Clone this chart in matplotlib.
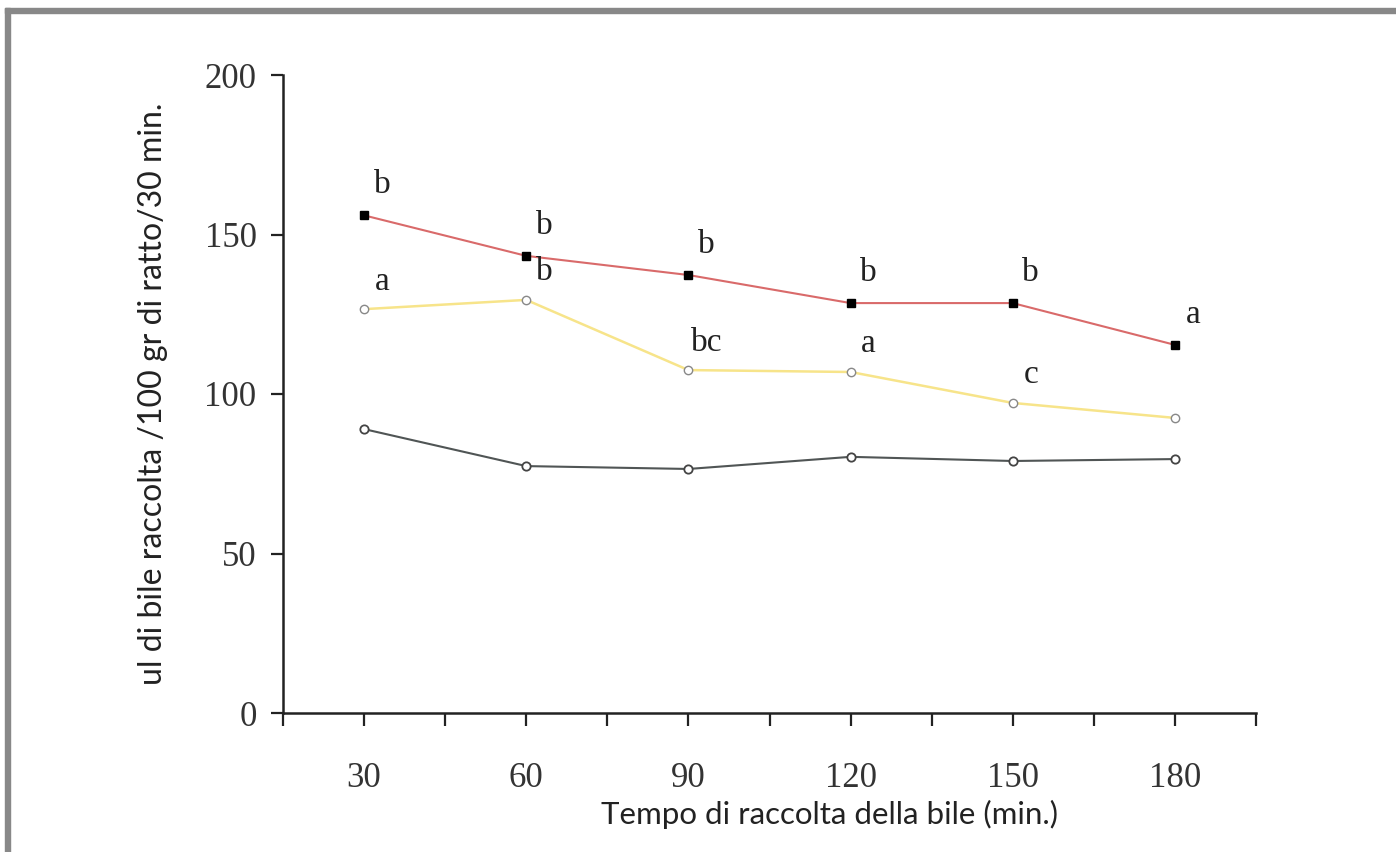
import matplotlib.pyplot as plt
from matplotlib.patches import Rectangle

# data
tempo = [30, 60, 90, 120, 150, 180]
serie_rossa = [156, 143.3, 137.3, 128.5, 128.5, 115.4]
serie_gialla = [126.6, 129.5, 107.5, 106.9, 97.2, 92.5]
serie_grigia = [89, 77.4, 76.5, 80.3, 79, 79.6]
lettere_rossa = ['b', 'b', 'b', 'b', 'b', 'a']
lettere_gialla = ['a', 'b', 'bc', 'a', 'c', '']

fig = plt.figure(figsize=(13.96, 8.52), dpi=100)

# grey frame on top and left edges
fig.patches.append(Rectangle((5 / 1396, 0), 5 / 1396, 1 - 8 / 852,
                             transform=fig.transFigure, color='#888888', zorder=0))
fig.patches.append(Rectangle((5 / 1396, 1 - 13 / 852), 1 - 5 / 1396, 5 / 852,
                             transform=fig.transFigure, color='#888888', zorder=0))

ax = fig.add_axes([283 / 1396, 1 - 713 / 852, (1256 - 283) / 1396, (713 - 75) / 852])

ax.plot(tempo, serie_grigia, color='#505555', lw=1.5, marker='o', ms=6,
        mfc='white', mec='#444444', mew=1.3)
ax.plot(tempo, serie_gialla, color='#f7e48a', lw=1.8, marker='o', ms=6,
        mfc='white', mec='#888888', mew=1.0)
ax.plot(tempo, serie_rossa, color='#d96a6a', lw=1.5, marker='s', ms=6,
        mfc='black', mec='black')

serif = ['Liberation Serif', 'DejaVu Serif']
for x, y, t in zip(tempo, serie_rossa, lettere_rossa):
    ax.annotate(t, (x, y), xytext=(13, 22), textcoords='offset points',
                ha='center', va='center', fontsize=24, family=serif, color='#222222')
for x, y, t in zip(tempo, serie_gialla, lettere_gialla):
    ax.annotate(t, (x, y), xytext=(13, 20), textcoords='offset points',
                ha='center', va='center', fontsize=24, family=serif, color='#222222')

ax.set_xlim(15, 195)
ax.set_ylim(0, 200)
ax.set_xticks(list(range(15, 196, 15)))
ax.set_xticklabels(['' if v not in tempo else str(v) for v in range(15, 196, 15)])
ax.set_yticks([0, 50, 100, 150, 200])

for s in ['top', 'right']:
    ax.spines[s].set_visible(False)
for s in ['left', 'bottom']:
    ax.spines[s].set_linewidth(1.8)
    ax.spines[s].set_color('#222222')

ax.tick_params(direction='out', length=9, width=1.6, colors='#222222',
               labelsize=25, pad=10)
ax.tick_params(axis='x', pad=26)
for lab in ax.get_xticklabels() + ax.get_yticklabels():
    lab.set_family(serif)
    lab.set_color('#333333')

ax.set_xlabel('Tempo di raccolta della bile (min.)', fontsize=22.5,
              family=['Lato', 'DejaVu Sans'], color='#222222')
ax.xaxis.set_label_coords(0.562, -0.136)
ax.set_ylabel('ul di bile raccolta /100 gr di ratto/30 min.', fontsize=23,
              family=['Lato', 'DejaVu Sans'], color='#222222', labelpad=26)

fig.savefig('out.png', dpi=100)
